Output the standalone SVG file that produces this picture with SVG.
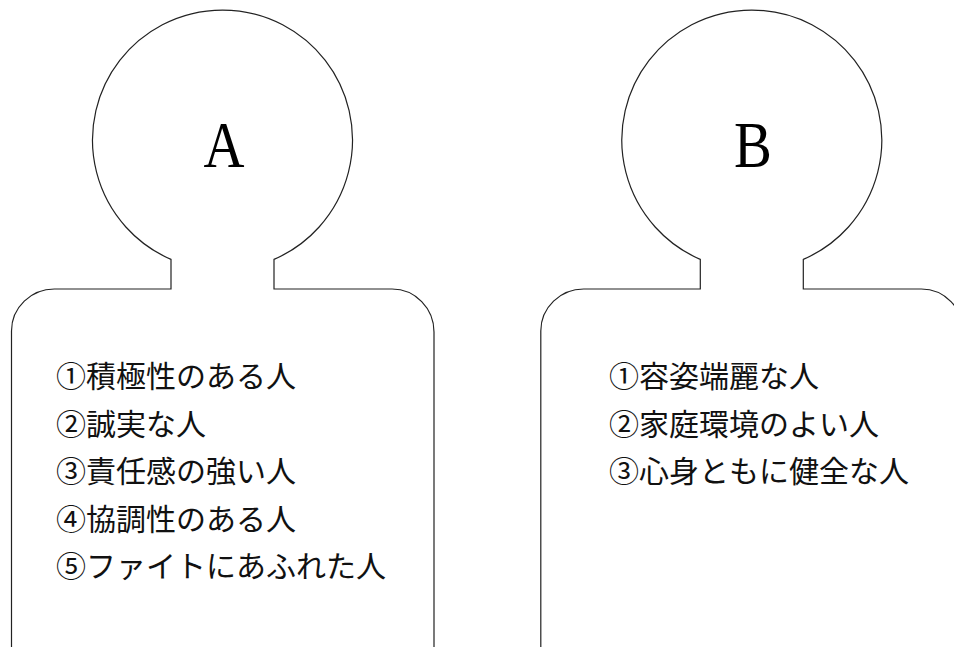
<svg xmlns="http://www.w3.org/2000/svg" width="954" height="647" viewBox="0 0 954 647">
<style>
.fig{fill:#fff;stroke:#222;stroke-width:1.2}
.head{font-family:"Liberation Serif","Noto Serif CJK JP",serif;font-size:66px;fill:#000;text-anchor:middle}
.item{font-family:"Noto Sans CJK JP","Noto Sans",sans-serif;font-size:30px;fill:#111}
</style>
<rect width="954" height="647" fill="#fff"/>
<g id="personA">
<path class="fig" d="M11.5 660 L11.5 331 A43 42 0 0 1 55 289 L171 289 L171 259.4 A130 130 0 1 1 274 259.4 L274 289 L392 289 A42 43 0 0 1 434 332 L434 660"/>
<text class="head" transform="translate(224 167) scale(0.86 1)">A</text>
<text class="item" x="56" y="387">①積極性のある人</text>
<text class="item" x="56" y="434.5">②誠実な人</text>
<text class="item" x="56" y="482">③責任感の強い人</text>
<text class="item" x="56" y="529.5">④協調性のある人</text>
<text class="item" x="56" y="577">⑤ファイトにあふれた人</text>
</g>
<g id="personB">
<path class="fig" d="M540.8 660 L540.8 331 A43 42 0 0 1 584.3 289 L700.3 289 L700.3 259.4 A130 130 0 1 1 803.3 259.4 L803.3 289 L921.3 289 A42 43 0 0 1 963.3 332 L963.3 660"/>
<text class="head" transform="translate(753 167) scale(0.86 1)">B</text>
<text class="item" x="609" y="387">①容姿端麗な人</text>
<text class="item" x="609" y="434.5">②家庭環境のよい人</text>
<text class="item" x="609" y="482">③心身ともに健全な人</text>
</g>
<g id="connectors"/>
</svg>
